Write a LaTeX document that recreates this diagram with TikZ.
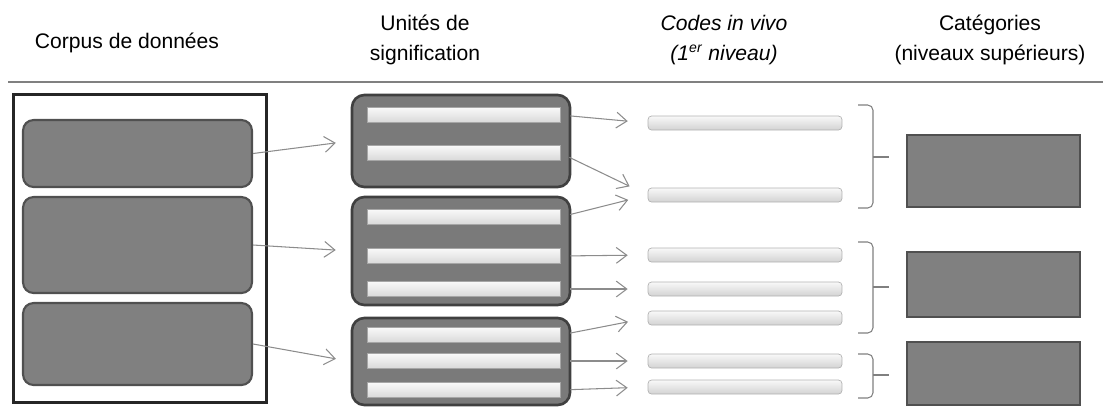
\documentclass[tikz,border=0pt]{standalone}
\usepackage{fontspec}
\setmainfont{Liberation Sans}
\usetikzlibrary{arrows.meta}
\definecolor{boxgray}{HTML}{808080}
\definecolor{edgegray}{HTML}{505050}
\definecolor{arrgray}{HTML}{8C8C8C}

\begin{document}
\begin{tikzpicture}[
    x=0.02cm, y=-0.02cm,
    hdr/.style={font=\fontsize{12}{17}\selectfont, align=center},
    corpus/.style={draw=edgegray, fill=boxgray, line width=1.2pt, rounded corners=6pt,
        minimum width=4.58cm, inner sep=0pt},
    unitbox/.style={draw=edgegray!80!black, fill=boxgray!95!black, line width=1.5pt,
        rounded corners=7pt, minimum width=4.36cm, inner sep=0pt},
    unitbar/.style={draw=gray!70, top color=gray!5, bottom color=gray!30,
        minimum width=3.86cm, minimum height=0.3cm, inner sep=0pt},
    codebar/.style={draw=gray!60, top color=gray!5, bottom color=gray!35, rounded corners=2pt,
        minimum width=3.88cm, minimum height=0.28cm, inner sep=0pt},
    catbox/.style={draw=edgegray, fill=boxgray, line width=1.2pt, minimum width=3.46cm, inner sep=0pt},
    arr/.style={draw=arrgray, line width=0.6pt, -{Straight Barb[length=6pt, width=9pt]}, shorten >=0.4cm},
    brk/.style={draw=gray, line width=0.6pt, rounded corners=3pt}
]
\useasboundingbox (0,0) rectangle (1103,407);

% --- column headers ---
\node[hdr] (hcorpus) at (127,43) {Corpus de données};
\node[hdr] (hunits) at (425,40) {Unités de\\signification};
\node[hdr, font=\fontsize{12}{17}\selectfont\itshape] (hcodes) at (724,40)
    {Codes in vivo\\(1\textsuperscript{er} niveau)};
\node[hdr] (hcats) at (990,40) {Catégories\\(niveaux supérieurs)};
\draw[gray, line width=1.1pt] (8,82) -- (1103,82);

% --- corpus de donnees ---
\node[draw=black!85, line width=1.7pt, minimum width=5.08cm, minimum height=6.18cm,
    inner sep=0pt] (frame) at (140,248.5) {};
\foreach \ix/\yy/\hh in {1/153.5/1.34, 2/245/1.92, 3/344/1.64}
    \node[corpus, minimum height=\hh cm] (c\ix) at (137.5,\yy) {};

% --- unites de signification ---
\foreach \ix/\yy/\hh in {1/141/1.84, 2/251/2.16, 3/361.5/1.74}
    \node[unitbox, minimum height=\hh cm] (u\ix) at (461,\yy) {};
\foreach \ix/\yy in {11/115, 12/153, 21/217, 22/256, 23/289, 31/335, 32/361, 33/390}
    \node[unitbar] (b\ix) at (463.5,\yy) {};

% --- codes in vivo ---
\foreach \ix/\yy in {1/123, 2/195, 3/255, 4/289, 5/318, 6/361, 7/387}
    \node[codebar] (d\ix) at (745,\yy) {};

% --- categories ---
\foreach \ix/\yy/\hh in {1/171/1.44, 2/284.5/1.3, 3/373.5/1.26}
    \node[catbox, minimum height=\hh cm] (k\ix) at (993.5,\yy) {};

% --- arrows ---
\foreach \ix in {1,2,3}
    \draw[arr, shorten >=0.3cm] (c\ix.east) -- (u\ix.west);
\foreach \src/\dst in {11/1, 12/2, 21/2, 22/3, 23/4, 31/5, 32/6, 33/7}
    \draw[arr, shorten <=0.2cm] (b\src.east) -- (d\dst.west);

% --- brackets grouping codes ---
\foreach \ya/\ym/\yb in {105/157/208, 242/287/333, 354/375/398} {
    \draw[brk] (858,\ya) -- (873,\ya) -- (873,\yb) -- (858,\yb);
    \draw[brk] (873,\ym) -- (889,\ym);
}

\end{tikzpicture}
\end{document}
